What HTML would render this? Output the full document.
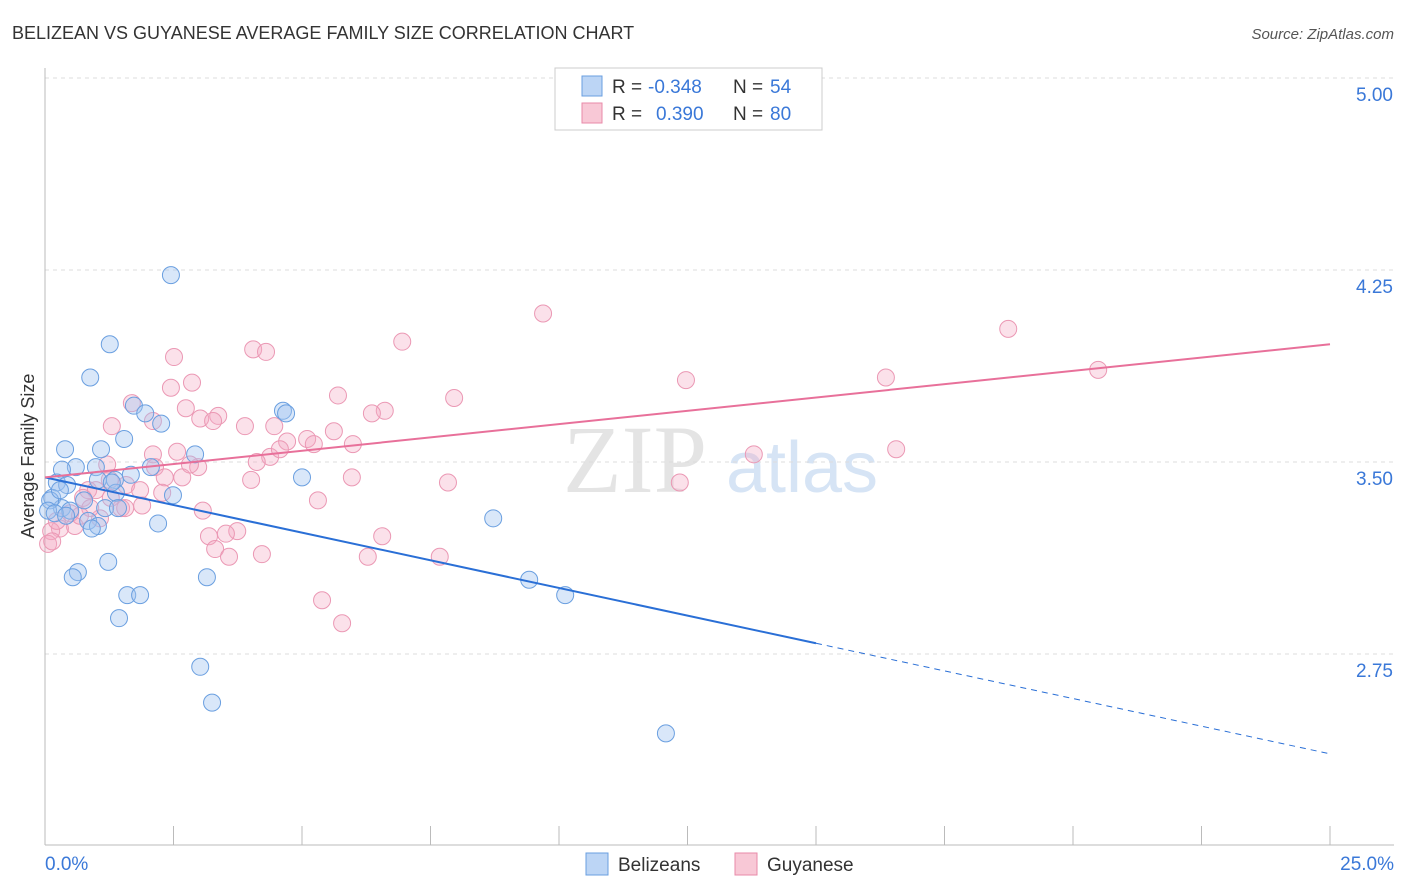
<!DOCTYPE html>
<html><head><meta charset="utf-8"><style>
body{margin:0;background:#fff;font-family:"Liberation Sans",sans-serif;}
#wrap{position:relative;width:1406px;height:892px;overflow:hidden;}
</style></head><body>
<div id="wrap">
<svg id="chart" width="1406" height="892" xmlns="http://www.w3.org/2000/svg">
<text x="12" y="39" font-size="18" fill="#333">BELIZEAN VS GUYANESE AVERAGE FAMILY SIZE CORRELATION CHART</text>
<text x="1394" y="39" font-size="15" fill="#555" font-style="italic" text-anchor="end">Source: ZipAtlas.com</text>
<text x="635" y="492" font-size="96" fill="#e4e4e4" font-family="Liberation Serif,serif" text-anchor="middle">ZIP</text>
<text x="802" y="492" font-size="72" fill="#d6e4f5" text-anchor="middle">atlas</text>
<g id="grid"></g><g id="axes"></g><g id="pts"></g><g id="trends"></g>
<text transform="translate(34,456) rotate(-90)" font-size="18" fill="#333" text-anchor="middle">Average Family Size</text>
<g>
<rect x="555" y="68" width="267" height="62" fill="#fff" stroke="#ccc"/>
<rect x="582" y="76" width="20" height="20" fill="#bcd5f5" stroke="#6a9fe0"/>
<rect x="582" y="103" width="20" height="20" fill="#f8c8d6" stroke="#e88aa8"/>
<text x="612" y="93" font-size="19" fill="#333">R =</text>
<text x="648" y="93" font-size="19" fill="#3a78d8">-0.348</text>
<text x="733" y="93" font-size="19" fill="#333">N =</text>
<text x="770" y="93" font-size="19" fill="#3a78d8">54</text>
<text x="612" y="120" font-size="19" fill="#333">R =</text>
<text x="656" y="120" font-size="19" fill="#3a78d8">0.390</text>
<text x="733" y="120" font-size="19" fill="#333">N =</text>
<text x="770" y="120" font-size="19" fill="#3a78d8">80</text>
</g>
<g>
<rect x="586" y="853" width="22" height="22" fill="#bcd5f5" stroke="#6a9fe0"/>
<text x="618" y="871" font-size="19" fill="#333">Belizeans</text>
<rect x="735" y="853" width="22" height="22" fill="#f8c8d6" stroke="#e88aa8"/>
<text x="767" y="871" font-size="19" fill="#333">Guyanese</text>
</g>
</svg></div>
<script>
const yTicks=[2.75,3.5,4.25,5.0];
const yTickLabels=["2.75","3.50","4.25","5.00"];
const xTickVals=[0,2.5,5,7.5,10,12.5,15,17.5,20,22.5,25];
const xEndLabels=["0.0%","25.0%"];
const blueX=[2.45,1.26,0.88,1.73,1.95,2.26,1.54,1.09,0.39,2.92,2.06,0.99,0.60,0.33,1.67,1.36,1.03,0.23,0.43,1.38,2.49,0.14,0.76,0.33,0.49,1.17,1.42,0.84,1.03,0.91,2.20,1.23,0.64,0.54,3.15,1.60,1.85,1.44,3.02,3.25,4.63,4.69,5.00,8.72,9.42,10.12,12.08,0.10,0.06,0.19,0.29,1.30,0.41];
const blueY=[4.23,3.96,3.83,3.72,3.69,3.65,3.59,3.55,3.55,3.53,3.48,3.48,3.48,3.47,3.45,3.43,3.43,3.42,3.41,3.38,3.37,3.36,3.35,3.32,3.31,3.32,3.32,3.27,3.25,3.24,3.26,3.11,3.07,3.05,3.05,2.98,2.98,2.89,2.70,2.56,3.70,3.69,3.44,3.28,3.04,2.98,2.44,3.35,3.31,3.30,3.39,3.42,3.29];
const pinkX=[9.69,18.74,6.95,4.05,4.30,2.51,2.86,2.45,12.47,16.36,20.49,5.70,7.96,1.69,2.74,6.61,6.36,3.02,3.37,3.27,3.89,4.46,2.10,1.30,5.62,5.10,4.71,5.23,5.99,2.57,2.10,16.56,13.79,4.38,4.12,1.21,2.98,2.14,4.57,5.97,4.01,7.84,12.35,2.33,2.67,1.58,0.84,0.99,2.28,1.28,1.89,0.74,5.31,3.07,1.48,1.56,0.49,1.07,0.58,0.29,0.12,0.06,0.14,3.19,3.74,3.52,6.56,3.31,3.58,4.22,7.68,6.28,5.39,5.78,0.88,0.23,0.68,1.26,1.85,2.82];
const pinkY=[4.08,4.02,3.97,3.94,3.93,3.91,3.81,3.79,3.82,3.83,3.86,3.76,3.75,3.73,3.71,3.70,3.69,3.67,3.68,3.66,3.64,3.64,3.66,3.64,3.62,3.59,3.58,3.57,3.57,3.54,3.53,3.55,3.53,3.52,3.50,3.49,3.48,3.48,3.55,3.44,3.43,3.42,3.42,3.44,3.44,3.41,3.39,3.39,3.38,3.36,3.33,3.36,3.35,3.31,3.32,3.32,3.30,3.28,3.25,3.24,3.23,3.18,3.19,3.21,3.23,3.22,3.21,3.16,3.13,3.14,3.13,3.13,2.96,2.87,3.32,3.27,3.29,3.43,3.39,3.49];
const blueTrend=[3.44,-0.0432];
const pinkTrend=[3.44,0.0208];
const blueSolidEnd=15;
const NS="http://www.w3.org/2000/svg";
function xs(v){return 45+v*51.4;}
function ys(v){return 462-(v-3.5)*256;}
function mk(tag,attrs,parent){const e=document.createElementNS(NS,tag);for(const k in attrs)e.setAttribute(k,attrs[k]);document.getElementById(parent).appendChild(e);return e;}
yTicks.forEach((t,i)=>{
 const l=mk('line',{x1:45,x2:1394,y1:ys(t),y2:ys(t),stroke:'#ddd','stroke-dasharray':'4,4'},'grid');
 
 
 const tx=mk('text',{x:1393,y:ys(t)+23,'font-size':19,fill:'#3a78d8','text-anchor':'end'},'grid');
 tx.textContent=yTickLabels[i];
 
 
});
const ax=mk('line',{x1:45,x2:1394,y1:845,y2:845,stroke:'#bbb'},'axes');


const ay=mk('line',{x1:45,x2:45,y1:68,y2:845,stroke:'#bbb'},'axes');


xTickVals.forEach(v=>{
 const t=mk('line',{x1:xs(v),x2:xs(v),y1:826,y2:845,stroke:'#bbb'},'axes');
 
 
});
const l0=mk('text',{x:45,y:870,'font-size':19,fill:'#3a78d8'},'axes');l0.textContent=xEndLabels[0];


const l1=mk('text',{x:1394,y:870,'font-size':19,fill:'#3a78d8','text-anchor':'end'},'axes');l1.textContent=xEndLabels[1];


pinkX.forEach((x,i)=>{
 const c=mk('circle',{cx:xs(x),cy:ys(pinkY[i]),r:8.5,fill:'rgba(244,170,195,0.35)',stroke:'#eb98b4','stroke-width':1},'pts');
 
 
});
blueX.forEach((x,i)=>{
 const c=mk('circle',{cx:xs(x),cy:ys(blueY[i]),r:8.5,fill:'rgba(160,196,240,0.4)',stroke:'#6a9fe0','stroke-width':1},'pts');
 
 
});
function tv(tr,x){return tr[0]+tr[1]*x;}
const bs=mk('line',{x1:xs(0),y1:ys(tv(blueTrend,0)),x2:xs(blueSolidEnd),y2:ys(tv(blueTrend,blueSolidEnd)),stroke:'#2a6fd6','stroke-width':2},'trends');


const bd=mk('line',{x1:xs(blueSolidEnd),y1:ys(tv(blueTrend,blueSolidEnd)),x2:xs(25),y2:ys(tv(blueTrend,25)),stroke:'#2a6fd6','stroke-width':1,'stroke-dasharray':'6,5'},'trends');


const pl=mk('line',{x1:xs(0),y1:ys(tv(pinkTrend,0)),x2:xs(25),y2:ys(tv(pinkTrend,25)),stroke:'#e8709a','stroke-width':2},'trends');


</script>
</body></html>
